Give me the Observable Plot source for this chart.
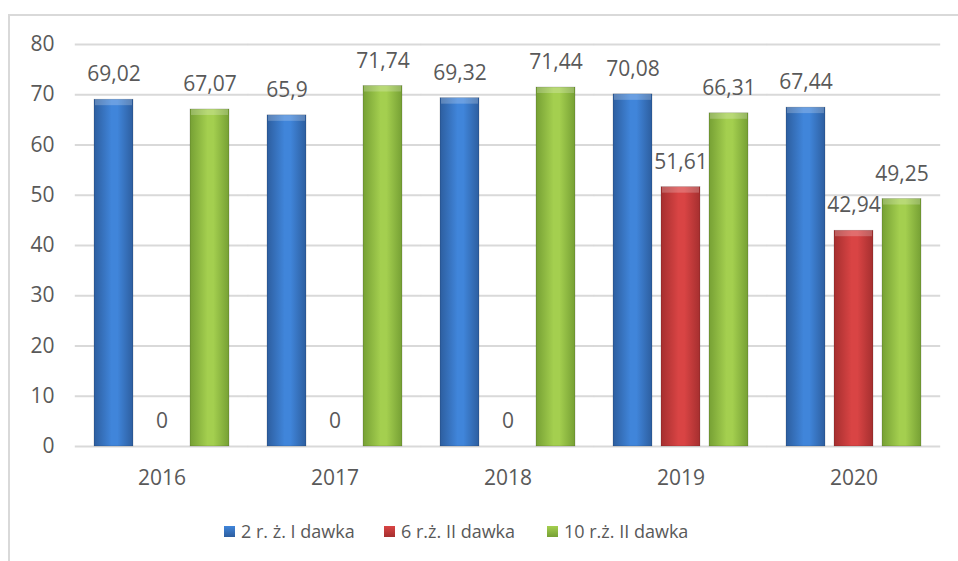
<!DOCTYPE html>
<html>
<head>
<meta charset="utf-8">
<script src="https://cdn.jsdelivr.net/npm/d3@7"></script>
<script src="https://cdn.jsdelivr.net/npm/@observablehq/plot@0.6"></script>
<style>
  html, body { margin: 0; padding: 0; background: #fff; }
  #wrap { position: relative; width: 958px; height: 561px; overflow: hidden; font-family: "Open Sans", sans-serif; }
  #border { position: absolute; left: 8px; top: 14px; width: 960px; height: 560px; border-top: 2px solid #d9d9d9; border-left: 2px solid #d9d9d9; }
  #chart { position: absolute; left: 0; top: 0; }
  .lg { position: absolute; top: 519px; display: flex; align-items: center; font-size: 18px; color: #595959; white-space: nowrap; }
  .sw { width: 11px; height: 11px; margin-right: 6px; }
</style>
</head>
<body>
<div id="wrap">
  <div id="border"></div>
  <div id="chart"></div>
  <div id="legend"></div>
</div>
<script>
const years = ["2016", "2017", "2018", "2019", "2020"];
const seriesNames = ["2 r. ż. I dawka", "6 r.ż. II dawka", "10 r.ż. II dawka"];
const values2r = [69.02, 65.9, 69.32, 70.08, 67.44];
const values6r = [0, 0, 0, 51.61, 42.94];
const values10r = [67.07, 71.74, 71.44, 66.31, 49.25];
const yTicks = [0, 10, 20, 30, 40, 50, 60, 70, 80];
const seriesColors = [
  {id: "gBlue", edge: "#2d5e9f", mid: "#4085da", swatch: "#3572c4"},
  {id: "gRed", edge: "#a52f2f", mid: "#d94444", swatch: "#c83a3a"},
  {id: "gGreen", edge: "#76a034", mid: "#a4cf4f", swatch: "#8fbb42"}
];

const allValues = [values2r, values6r, values10r];
const data = [];
years.forEach((yr, i) => {
  seriesNames.forEach((s, j) => {
    data.push({year: yr, series: s, value: allValues[j][i]});
  });
});

const fmt = v => String(v).replace(".", ",");

const chart = Plot.plot({
  width: 958,
  height: 500,
  marginLeft: 73,
  marginRight: 17,
  marginTop: 44,
  marginBottom: 54,
  style: {fontFamily: "Open Sans, sans-serif", fontSize: "21px", color: "#595959", background: "transparent"},
  fx: {domain: years, paddingInner: 0.164, paddingOuter: 0.082, label: null, axis: "bottom", tickSize: 0, tickPadding: 24},
  x: {domain: seriesNames, paddingInner: 0.195, paddingOuter: 0.0975, axis: null},
  y: {domain: [0, 80], ticks: yTicks, tickSize: 0, tickPadding: 35, label: null, axis: "left"},
  color: {domain: seriesNames, range: seriesColors.map(c => `url(#${c.id})`)},
  marks: [
    Plot.ruleY(yTicks, {stroke: "#d9d9d9", strokeWidth: 2, insetLeft: -14.2, insetRight: -14.2}),
    Plot.barY(data, {fx: "year", x: "series", y: "value", fill: "series", stroke: "rgba(0,0,0,0.25)", strokeWidth: 0.6}),
    Plot.barY(data.filter(d => d.value > 0), {fx: "year", x: "series", y1: "value", y2: "value", insetBottom: -6, insetLeft: 1, insetRight: 1, fill: "white", fillOpacity: 0.22}),
    Plot.text(data, {fx: "year", x: "series", y: "value", text: d => fmt(d.value), dy: -25, fill: "#595959", fontSize: 21, lineAnchor: "middle"})
  ]
});

const svg = d3.select(chart);
const defs = svg.insert("defs", ":first-child");
seriesColors.forEach(c => {
  const g = defs.append("linearGradient").attr("id", c.id).attr("x1", "0%").attr("x2", "100%").attr("y1", "0%").attr("y2", "0%");
  g.append("stop").attr("offset", "0%").attr("stop-color", c.edge);
  g.append("stop").attr("offset", "45%").attr("stop-color", c.mid);
  g.append("stop").attr("offset", "60%").attr("stop-color", c.mid);
  g.append("stop").attr("offset", "100%").attr("stop-color", c.edge);
});
document.getElementById("chart").appendChild(chart);

const legendLefts = [224, 384, 547];
const legend = document.getElementById("legend");
seriesNames.forEach((s, i) => {
  const item = document.createElement("div");
  item.className = "lg";
  item.style.left = legendLefts[i] + "px";
  const sw = document.createElement("div");
  sw.className = "sw";
  sw.style.background = `linear-gradient(to bottom, ${seriesColors[i].mid}, ${seriesColors[i].edge})`;
  const t = document.createElement("span");
  t.textContent = s;
  item.appendChild(sw);
  item.appendChild(t);
  legend.appendChild(item);
});
</script>
</body>
</html>
